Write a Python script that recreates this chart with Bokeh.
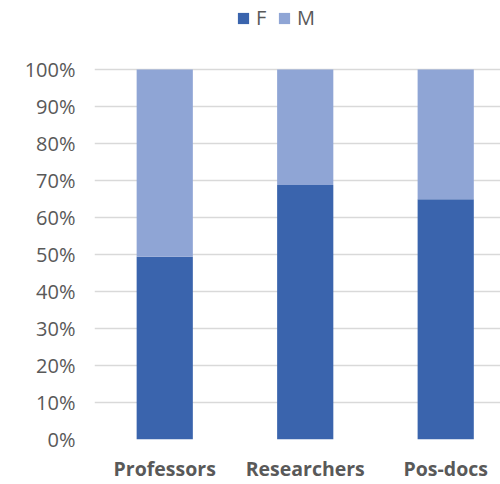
from bokeh.plotting import figure
from bokeh.models import ColumnDataSource, Range1d, Legend, LegendItem, NumeralTickFormatter, FixedTicker
from bokeh.embed import file_html
from bokeh.resources import INLINE

categories = ["Professors", "Researchers", "Pos-docs"]
female = [0.494, 0.688, 0.649]
male = [1 - f for f in female]
y_ticks = [i / 10 for i in range(11)]

F_COLOR = "#3A64AD"
M_COLOR = "#8FA5D5"
TEXT = "#595959"

xs = list(range(len(categories)))
src = ColumnDataSource(dict(x=xs, F=female, M=male))

p = figure(width=500, height=484, output_backend="svg", toolbar_location=None,
           x_range=Range1d(-0.5, 2.39), y_range=Range1d(0, 1.1865),
           min_border_left=94, min_border_right=0, min_border_top=0, min_border_bottom=43)
p.outline_line_color = None
p.background_fill_color = "white"
p.border_fill_color = "white"

r = p.vbar_stack(["F", "M"], x="x", width=0.4, color=[F_COLOR, M_COLOR], source=src, line_color=None)

p.xaxis.ticker = FixedTicker(ticks=xs)
p.xaxis.major_label_overrides = {i: c for i, c in enumerate(categories)}
p.xaxis.major_label_text_font = "Open Sans"
p.xaxis.major_label_text_font_style = "bold"
p.xaxis.major_label_text_font_size = "19.5px"
p.xaxis.major_label_text_color = TEXT
p.xaxis.major_label_standoff = 15
p.xaxis.major_tick_out = 0
p.xaxis.major_tick_in = 0
p.xaxis.axis_line_color = None
p.xaxis.major_tick_line_color = None
p.xaxis.minor_tick_line_color = None
p.xgrid.grid_line_color = None

p.yaxis.ticker = FixedTicker(ticks=y_ticks)
p.yaxis.formatter = NumeralTickFormatter(format="0%")
p.yaxis.major_label_text_font = "Open Sans"
p.yaxis.major_label_text_font_size = "20px"
p.yaxis.major_label_text_color = TEXT
p.yaxis.major_label_standoff = 19
p.yaxis.major_tick_out = 0
p.yaxis.major_tick_in = 0
p.yaxis.axis_line_color = None
p.yaxis.major_tick_line_color = None
p.yaxis.minor_tick_line_color = None
p.ygrid.grid_line_color = "#D9D9D9"
p.ygrid.grid_line_width = 1.5

legend = Legend(items=[LegendItem(label="F", renderers=[r[0]]), LegendItem(label="M", renderers=[r[1]])],
                orientation="horizontal", location=(142, 408),
                label_text_font="Open Sans", label_text_font_size="20px", label_text_color=TEXT,
                glyph_width=14, glyph_height=14, label_standoff=6, spacing=1,
                border_line_color=None, background_fill_alpha=0, padding=0, margin=0)
p.add_layout(legend)

open("out.html", "w").write(file_html(p, INLINE))
